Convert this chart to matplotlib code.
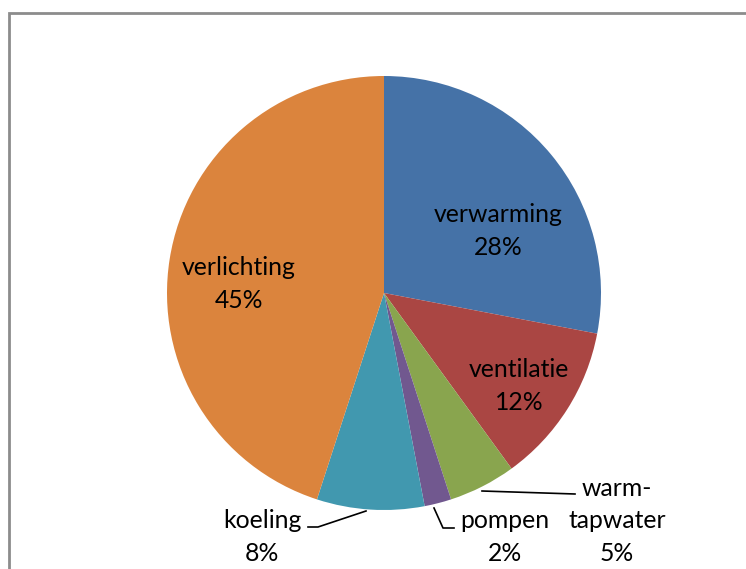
import matplotlib.pyplot as plt
from matplotlib.patches import Rectangle

# gegevens
labels = ['verwarming', 'ventilatie', 'warm-\ntapwater', 'pompen', 'koeling', 'verlichting']
values = [28, 12, 5, 2, 8, 45]
colors = ['#4572A7', '#AA4643', '#89A54E', '#71588F', '#4198AF', '#DB843D']

W, H = 746, 569
fig = plt.figure(figsize=(W / 100, H / 100), dpi=100)
ax = fig.add_axes([0, 0, 1, 1])

# kader van de grafiek
ax.add_patch(Rectangle((9, -20), W + 40, H - 13 + 20, fill=False,
                       edgecolor='#8c8c8c', linewidth=2))

cx, cy, r = 384, H - 293, 217
ax.pie(values, colors=colors, startangle=90, counterclock=False,
       center=(cx, cy), radius=r, frame=True)
ax.set_xlim(0, W)
ax.set_ylim(0, H)
ax.set_aspect('equal')
ax.axis('off')

font = dict(family='Lato', fontsize=17.8, color='black', ha='center', va='center',
            linespacing=1.5)

def px(x, y):
    return x, H - y

ax.text(*px(498, 231), f'{labels[0]}\n{values[0]}%', **font)
ax.text(*px(519, 386), f'{labels[1]}\n{values[1]}%', **font)
ax.text(*px(617, 521), f'{labels[2]}\n{values[2]}%', **font)
ax.text(*px(505, 537), f'{labels[3]}\n{values[3]}%', **font)
ax.text(*px(262, 537), f'{labels[4]}\n{values[4]}%', **font)
ax.text(*px(239, 284), f'{labels[5]}\n{values[5]}%', **font)

# verbindingslijnen
def leader(pts):
    xs = [p[0] for p in pts]
    ys = [H - p[1] for p in pts]
    ax.plot(xs, ys, color='black', linewidth=1.2)

leader([(482, 491), (575, 494)])
leader([(434, 508), (443, 528), (454, 528)])
leader([(366, 511), (318, 527), (308, 527)])

fig.savefig('out.png', dpi=100)
